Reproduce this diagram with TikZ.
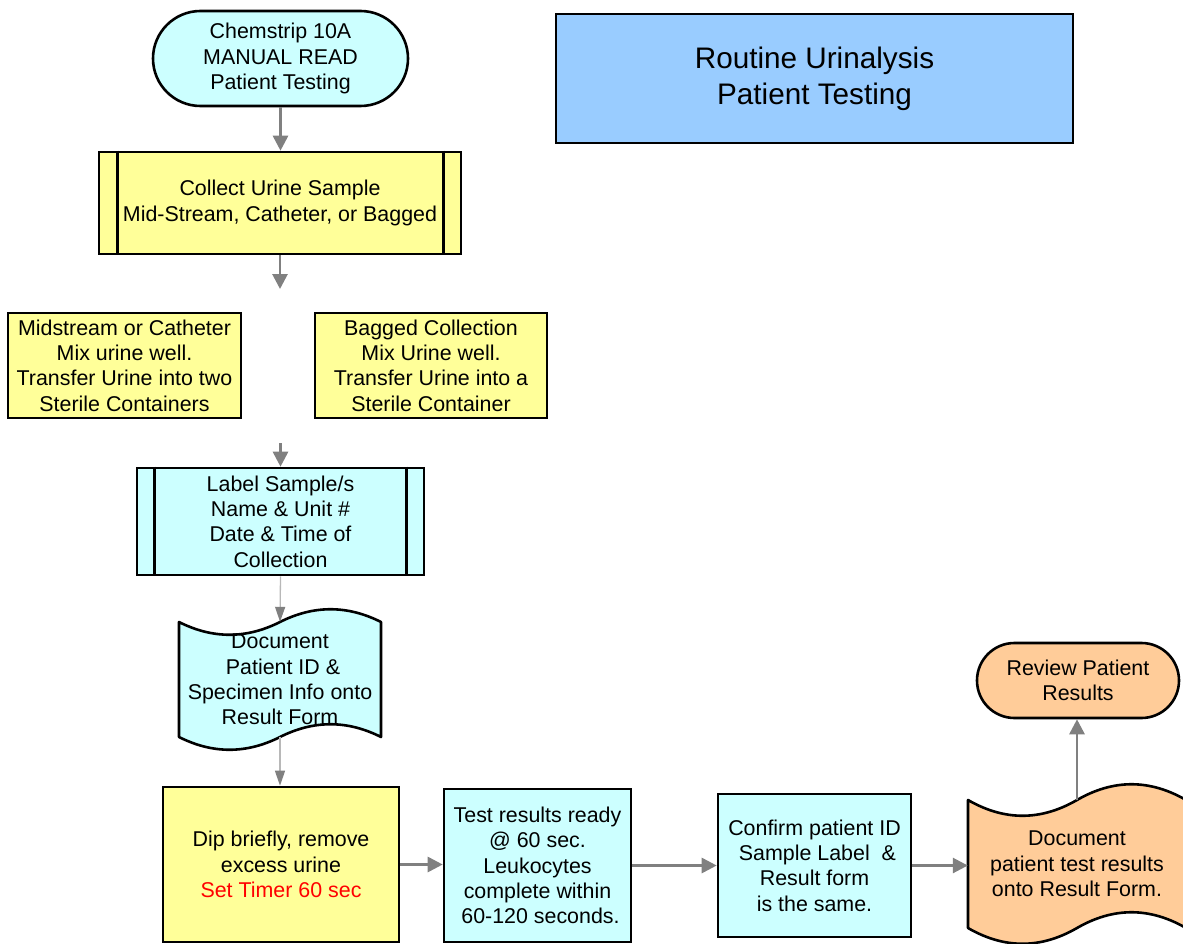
\documentclass[tikz,border=0pt]{standalone}
\usepackage{fontspec}
\setmainfont{Liberation Sans}
\usetikzlibrary{arrows.meta}
\definecolor{cyanfill}{HTML}{CCFFFF}
\definecolor{yellowfill}{HTML}{FFFF99}
\definecolor{orangefill}{HTML}{FFCC99}
\definecolor{titlefill}{HTML}{99CCFF}
\definecolor{arrgray}{HTML}{808080}
\definecolor{thingray}{HTML}{B8B8B8}
\newcommand{\mybody}{\fontsize{21.4pt}{25.3pt}\selectfont}
\newcommand{\mytitle}{\fontsize{29.7pt}{36pt}\selectfont}
\newcommand{\punchtape}[6]{%
  \pgfmathsetmacro\ptq{(#3-#2)/6}%
  \pgfmathsetmacro\ptm{(#2+#3)/2}%
  \draw[fill=#1, line width=2.6pt, line join=round]
    (#2,#4) .. controls (#2+\ptq,#4+#6) and (\ptm-\ptq,#4+#6) .. (\ptm,#4)
            .. controls (\ptm+\ptq,#4-#6) and (#3-\ptq,#4-#6) .. (#3,#4)
    -- (#3,#5) .. controls (#3-\ptq,#5-#6) and (\ptm+\ptq,#5-#6) .. (\ptm,#5)
            .. controls (\ptm-\ptq,#5+#6) and (#2+\ptq,#5+#6) .. (#2,#5) -- cycle;
}
\tikzset{
  box/.style={draw, line width=2.6pt, align=center, inner sep=0pt, font=\mybody},
  term/.style={box, rounded corners=#1},
  txt/.style={align=center, inner sep=0pt, font=\mybody},
  arr/.style={draw=arrgray, line width=2.8pt, -{Triangle[length=15pt,width=15pt]}},
  thinarr/.style={draw=thingray, line width=1.3pt, -{Triangle[length=15pt,width=10pt,color=arrgray]}},
}
\begin{document}
\begin{tikzpicture}[x=1pt,y=-1pt]
\useasboundingbox (0,0) rectangle (1183,944);
% title
\node[box, fill=titlefill, minimum width=517pt, minimum height=129pt, font=\mytitle] (title) at (814.5,78.5) {Routine Urinalysis\\Patient Testing};
% start
\node[term=47.5pt, fill=cyanfill, minimum width=255pt, minimum height=95pt] (start) at (280.5,58.5) {Chemstrip 10A\\MANUAL READ\\Patient Testing};
% collect
\node[box, fill=yellowfill, minimum width=362pt, minimum height=102pt] (collect) at (280,203) {Collect Urine Sample\\Mid-Stream, Catheter, or Bagged};
\draw[line width=2.6pt] ([xshift=20pt]collect.north west) -- ([xshift=20pt]collect.south west);
\draw[line width=2.6pt] ([xshift=-19pt]collect.north east) -- ([xshift=-19pt]collect.south east);
% two options
\node[box, fill=yellowfill, minimum width=233pt, minimum height=105pt] (mid) at (124.5,365.5) {Midstream or Catheter\\Mix urine well.\\Transfer Urine into two\\Sterile Containers};
\node[box, fill=yellowfill, minimum width=232pt, minimum height=105pt] (bag) at (431,365.5) {Bagged Collection\\Mix Urine well.\\Transfer Urine into a\\Sterile Container};
% label
\node[box, fill=cyanfill, minimum width=287pt, minimum height=107pt] (label) at (280.5,521.5) {Label Sample/s\\Name \& Unit \#\\Date \& Time of\\Collection};
\draw[line width=2.6pt] ([xshift=19pt]label.north west) -- ([xshift=19pt]label.south west);
\draw[line width=2.6pt] ([xshift=-19pt]label.north east) -- ([xshift=-19pt]label.south east);
% document 1
\punchtape{cyanfill}{179}{381}{622}{737}{17}
\node[txt, minimum width=202pt, minimum height=115pt] (doc1) at (280,679.5) {Document\\\ Patient ID \&\\Specimen Info onto\\Result Form};
% bottom row
\node[box, fill=yellowfill, minimum width=236pt, minimum height=155pt] (dip) at (281,864.5) {Dip briefly, remove\\excess urine\\\textcolor{red}{Set Timer 60 sec}};
\node[box, fill=cyanfill, minimum width=187pt, minimum height=153pt] (test) at (537.5,865.5) {Test results ready\\@ 60 sec.\\Leukocytes\\complete within\\\ 60-120 seconds.};
\node[box, fill=cyanfill, minimum width=193pt, minimum height=143pt] (confirm) at (814.5,865.5) {Confirm patient ID\\\ Sample Label\ \ \&\\Result form\\is the same.};
% document 2
\punchtape{orangefill}{968}{1186}{800}{928}{21}
\node[txt, minimum width=218pt, minimum height=128pt] (doc2) at (1077,864) {Document\\patient test results\\onto Result Form.};
% review
\node[term=37.5pt, fill=orangefill, minimum width=202pt, minimum height=75pt] (review) at (1078,680.5) {Review Patient\\Results};
% connectors
\coordinate (c1) at (280,289);
\coordinate (c2) at (280.5,443);
\draw[arr] (start.south) -- (start.south |- collect.north);
\draw[arr] (collect.south) -- (c1);
\draw[arr] (c2) -- (label.north);
\draw[thinarr] (label.south) -- (doc1.north);
\draw[thinarr] (doc1.south) -- (doc1.south |- dip.north);
\draw[arr] (dip.east) -- (dip.east -| test.west);
\draw[arr] (test.east) -- (test.east -| confirm.west);
\draw[arr] (confirm.east) -- (confirm.east -| doc2.west);
\draw[arr] (doc2.north) -- (doc2.north |- review.south);
\end{tikzpicture}
\end{document}
